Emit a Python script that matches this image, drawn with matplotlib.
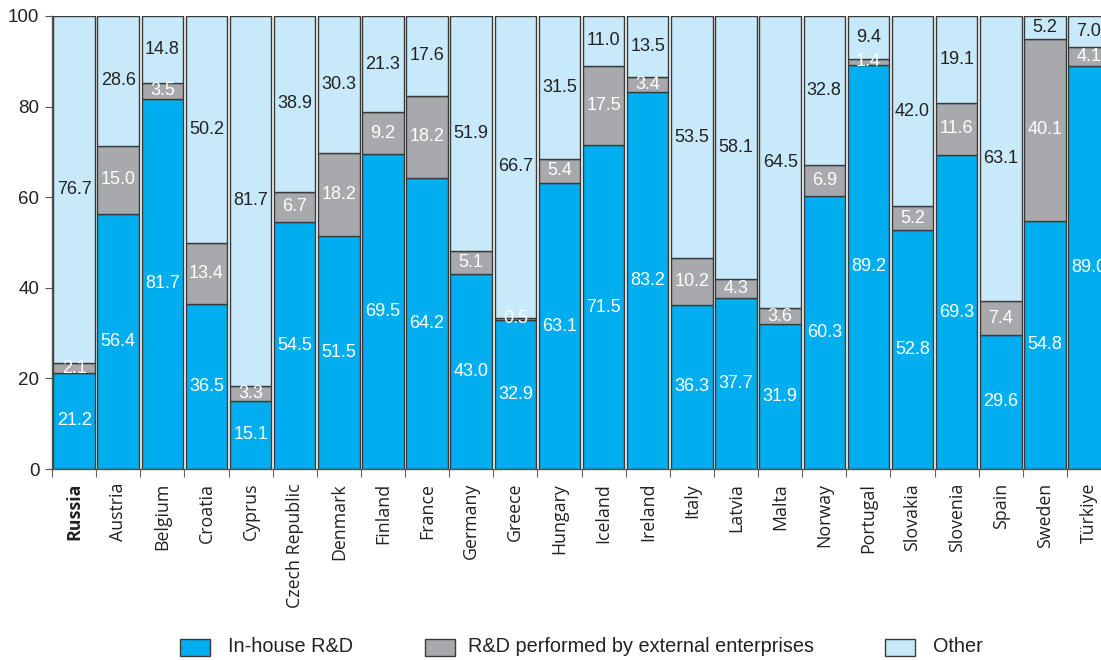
import numpy as np
import matplotlib
matplotlib.use("Agg")
import matplotlib.pyplot as plt
from matplotlib.patches import Rectangle

# ── Data ─────────────────────────────────────────────────────────────────────
countries = ["Russia", "Austria", "Belgium", "Croatia", "Cyprus", "Czech Republic",
             "Denmark", "Finland", "France", "Germany", "Greece", "Hungary",
             "Iceland", "Ireland", "Italy", "Latvia", "Malta", "Norway",
             "Portugal", "Slovakia", "Slovenia", "Spain", "Sweden", "Türkiye"]
in_house = [21.2, 56.4, 81.7, 36.5, 15.1, 54.5, 51.5, 69.5, 64.2, 43.0, 32.9, 63.1,
            71.5, 83.2, 36.3, 37.7, 31.9, 60.3, 89.2, 52.8, 69.3, 29.6, 54.8, 89.0]
external = [2.1, 15.0, 3.5, 13.4, 3.3, 6.7, 18.2, 9.2, 18.2, 5.1, 0.5, 5.4,
            17.5, 3.4, 10.2, 4.3, 3.6, 6.9, 1.4, 5.2, 11.6, 7.4, 40.1, 4.1]
other = [76.7, 28.6, 14.8, 50.2, 81.7, 38.9, 30.3, 21.3, 17.6, 51.9, 66.7, 31.5,
         11.0, 13.5, 53.5, 58.1, 64.5, 32.8, 9.4, 42.0, 19.1, 63.1, 5.2, 7.0]
series_names = ["In-house R&D", "R&D performed by external enterprises", "Other"]

# ── Style ────────────────────────────────────────────────────────────────────
C_IN, C_EXT, C_OTH = "#00AEEF", "#A7A9AC", "#C7E9F9"
EDGE = "#3a3a3a"
NUMFONT = ["Liberation Sans", "DejaVu Sans"]
TICKFONT = ["Open Sans", "DejaVu Sans"]

fig = plt.figure(figsize=(11.01, 6.60), dpi=100)
W, H = 1101, 660
n = len(countries)
slot = 44.13
ax = fig.add_axes([52 / W, (H - 469) / H, n * slot / W, 453 / H])

x = np.arange(n)
in_house = np.array(in_house)
external = np.array(external)
other = np.array(other)
bw = 0.94
kw = dict(width=bw, edgecolor=EDGE, linewidth=1.0)
ax.bar(x, in_house, color=C_IN, **kw)
ax.bar(x, external, bottom=in_house, color=C_EXT, **kw)
ax.bar(x, other, bottom=in_house + external, color=C_OTH, **kw)

# value labels in the middle of each segment
for i in range(n):
    ax.text(x[i], in_house[i] / 2, f"{in_house[i]:.1f}", ha="center", va="center",
            color="white", fontsize=13, family=NUMFONT)
    ax.text(x[i], in_house[i] + external[i] / 2, f"{external[i]:.1f}", ha="center",
            va="center", color="white", fontsize=13, family=NUMFONT)
    ax.text(x[i], in_house[i] + external[i] + other[i] / 2, f"{other[i]:.1f}",
            ha="center", va="center", color="#222222", fontsize=13, family=NUMFONT)

ax.set_xlim(-0.5, n - 0.5)
ax.set_ylim(0, 100)
ax.set_yticks(np.arange(0, 101, 20))
for lab in ax.get_yticklabels():
    lab.set_family(NUMFONT)
    lab.set_fontsize(13.5)
    lab.set_color("#222222")
ax.tick_params(axis="y", length=5, color="#555555", pad=4)

# ticks at bar boundaries, labels at centres
ax.set_xticks(np.arange(-0.5, n, 1.0))
ax.set_xticklabels([])
ax.tick_params(axis="x", which="major", length=6, color="#666666")
ax.set_xticks(x, minor=True)
ax.set_xticklabels(countries, minor=True, rotation=90, fontsize=12.8,
                   family=TICKFONT, color="#222222")
ax.tick_params(axis="x", which="minor", length=0, pad=10)
ax.get_xticklabels(minor=True)[0].set_fontweight("bold")

for s in ["top", "right"]:
    ax.spines[s].set_visible(False)
for s in ["left", "bottom"]:
    ax.spines[s].set_color("#555555")
    ax.spines[s].set_linewidth(1.0)

# ── Legend row along the bottom ──────────────────────────────────────────────
leg_y = 1 - 647 / H
for name, col, px, tx in zip(series_names, (C_IN, C_EXT, C_OTH),
                             (180, 425, 885), (228, 468, 933)):
    fig.patches.append(Rectangle((px / W, leg_y - 8.5 / H), 30 / W, 17 / H,
                                 transform=fig.transFigure, facecolor=col,
                                 edgecolor=EDGE, linewidth=1.0))
    fig.text(tx / W, leg_y, name, ha="left", va="center", fontsize=14.3,
             family=NUMFONT, color="#222222")

fig.savefig("out.png", dpi=100, facecolor="white")
